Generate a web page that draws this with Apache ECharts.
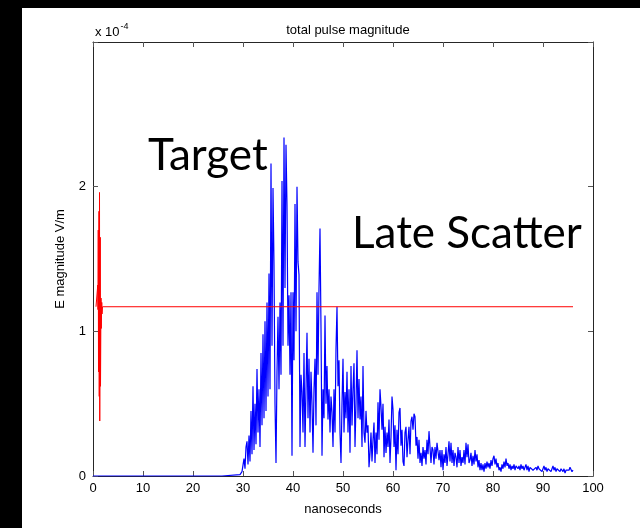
<!DOCTYPE html>
<html>
<head>
<meta charset="utf-8">
<script src="https://cdn.jsdelivr.net/npm/echarts@6/dist/echarts.min.js"></script>
<style>
  html, body { margin: 0; padding: 0; background: #fff; }
  #chart { width: 640px; height: 528px; }
</style>
</head>
<body>
<div id="chart"></div>
<script>
// values in units of 1e-4 V/m, time in nanoseconds
const leadTimes = [0, 25.8, 26.0, 29.4];
const leadValues = [0, 0, 0.01, 0.01];

// blue pulse, sampled every 0.2 ns from 29.6 ns
const pulseStart = 29.6;
const pulseStep = 0.2;
const pulseValues = [
    0.01, 0.03, 0.02, 0.12, 0.05, 0.20, 0.24, 0.08, 0.28, 0.10,
    0.45, 0.15, 0.62, 0.18, 0.50, 0.22, 0.74, 0.30, 0.60, 0.20,
    0.85, 0.35, 0.98, 0.40, 1.07, 0.45, 1.20, 0.55, 1.40, 0.60,
    2.16, 0.90, 1.99, 1.46, 0.50, 0.09, 0.72, 1.10, 0.60, 1.20,
    0.70, 2.04, 0.90, 2.34, 1.30, 2.29, 1.87, 0.90, 1.25, 0.70,
    1.27, 0.14, 1.27, 0.80, 1.88, 1.00, 2.00, 1.48, 1.39, 0.20,
    0.70, 0.58, 0.30, 0.85, 0.20, 0.60, 0.99, 0.40, 0.81, 0.30,
    0.72, 0.50, 0.16, 0.60, 0.81, 0.35, 1.27, 0.70, 1.30, 1.71,
    1.02, 0.14, 0.60, 0.40, 1.11, 0.50, 0.76, 0.39, 0.60, 0.30,
    0.55, 0.44, 0.20, 0.60, 0.30, 0.88, 1.17, 0.62, 0.80, 0.30,
    0.09, 0.50, 0.81, 0.30, 0.58, 0.40, 0.72, 0.30, 0.60, 0.16,
    0.76, 0.35, 0.60, 0.78, 0.20, 0.50, 0.87, 0.40, 0.67, 0.39,
    0.55, 0.20, 0.76, 0.30, 0.23, 0.45, 0.30, 0.35, 0.06, 0.16,
    0.30, 0.10, 0.25, 0.37, 0.09, 0.30, 0.15, 0.51, 0.25, 0.60,
    0.48, 0.32, 0.50, 0.13, 0.34, 0.16, 0.30, 0.20, 0.39, 0.09,
    0.27, 0.55, 0.46, 0.20, 0.35, 0.04, 0.32, 0.15, 0.44, 0.47,
    0.21, 0.32, 0.10, 0.07, 0.30, 0.34, 0.13, 0.25, 0.34, 0.15,
    0.38, 0.41, 0.32, 0.43, 0.41, 0.21, 0.27, 0.12, 0.25, 0.09,
    0.16, 0.07, 0.20, 0.12, 0.18, 0.08, 0.25, 0.15, 0.31, 0.30,
    0.09, 0.20, 0.18, 0.08, 0.20, 0.12, 0.23, 0.24, 0.11, 0.18,
    0.06, 0.18, 0.04, 0.15, 0.09, 0.20, 0.07, 0.15, 0.24, 0.10,
    0.23, 0.09, 0.18, 0.07, 0.16, 0.13, 0.06, 0.20, 0.09, 0.18,
    0.07, 0.13, 0.09, 0.18, 0.08, 0.23, 0.13, 0.22, 0.09, 0.11,
    0.16, 0.07, 0.14, 0.08, 0.18, 0.10, 0.15, 0.06, 0.11, 0.04,
    0.09, 0.04, 0.08, 0.03, 0.09, 0.05, 0.10, 0.06, 0.09, 0.05,
    0.11, 0.07, 0.12, 0.14, 0.08, 0.12, 0.06, 0.09, 0.04, 0.06,
    0.03, 0.08, 0.05, 0.10, 0.06, 0.12, 0.07, 0.09, 0.05, 0.08,
    0.04, 0.07, 0.05, 0.08, 0.04, 0.07, 0.08, 0.05, 0.07, 0.04,
    0.08, 0.05, 0.07, 0.04, 0.06, 0.08, 0.04, 0.07, 0.03, 0.06,
    0.05, 0.07, 0.04, 0.05, 0.03, 0.06, 0.04, 0.07, 0.05, 0.04,
    0.06, 0.03, 0.05, 0.07, 0.04, 0.06, 0.03, 0.05, 0.04, 0.06,
    0.03, 0.05, 0.07, 0.04, 0.06, 0.03, 0.05, 0.04, 0.06, 0.03,
    0.05, 0.04, 0.03, 0.05, 0.02, 0.04, 0.03, 0.05, 0.04, 0.06,
    0.07, 0.03, 0.04
];

// red reference trace
const refTimes = [0.6, 0.9, 0.95, 1.0, 1.05, 1.1, 1.2, 1.25, 1.3, 1.35, 1.45, 1.5, 1.6, 1.65, 1.75, 1.8, 1.9, 96];
const refValues = [1.17, 1.17, 1.32, 1.15, 1.70, 0.72, 1.83, 0.55, 1.96, 0.38, 1.65, 0.62, 1.23, 1.02, 1.20, 1.12, 1.17, 1.17];

const xTicks = [0, 10, 20, 30, 40, 50, 60, 70, 80, 90, 100];
const yTicks = [0, 1, 2];

const pulseData = leadTimes.map((t, i) => [t, leadValues[i]]);
pulseValues.forEach((v, i) => {
    pulseData.push([+(pulseStart + i * pulseStep).toFixed(2), v]);
});
const refData = refTimes.map((t, i) => [t, refValues[i]]);

const chart = echarts.init(document.getElementById('chart'));
const font = 'Liberation Sans';
const axisCommon = {
    axisLine: { show: true, onZero: false, lineStyle: { color: '#262626', width: 1 } },
    axisTick: { show: true, inside: true, length: 5, lineStyle: { color: '#555' } },
    splitLine: { show: false }
};

chart.setOption({
    backgroundColor: '#fff',
    animation: false,
    grid: { left: 93, right: 47, top: 42, bottom: 52 },
    graphic: [
        { type: 'rect', shape: { x: 0, y: 0, width: 22, height: 528 }, style: { fill: '#000' } },
        { type: 'rect', shape: { x: 0, y: 0, width: 640, height: 8 }, style: { fill: '#000' } },
        {
            type: 'text', left: 95, top: 22,
            style: {
                text: '{b|x 10}{s|-4}',
                rich: {
                    b: { fontFamily: font, fontSize: 13, fill: '#000', verticalAlign: 'bottom' },
                    s: { fontFamily: font, fontSize: 9, fill: '#000', verticalAlign: 'top', padding: [0, 0, 8, 1] }
                }
            }
        },
        { type: 'text', left: 148, top: 134, style: { text: 'Target', fontFamily: 'Lato', fontSize: 44, fill: '#000' } },
        { type: 'text', left: 352, top: 212, style: { text: 'Late Scatter', fontFamily: 'Lato', fontSize: 44, fill: '#000' } }
    ],
    title: {
        text: 'total pulse magnitude',
        left: 343, top: 19,
        textAlign: 'center',
        textStyle: { fontFamily: font, fontSize: 13, fontWeight: 'normal', color: '#000' }
    },
    xAxis: [
        Object.assign({
            type: 'value', min: 0, max: 100, interval: 10,
            name: 'nanoseconds', nameLocation: 'middle', nameGap: 27,
            nameTextStyle: { fontFamily: font, fontSize: 13, color: '#000' },
            axisLabel: {
                fontFamily: font, fontSize: 13, color: '#000', margin: 6,
                formatter: v => xTicks.includes(v) ? String(v) : ''
            }
        }, axisCommon),
        Object.assign({
            type: 'value', min: 0, max: 100, interval: 10, position: 'top',
            axisLabel: { show: false }
        }, axisCommon)
    ],
    yAxis: [
        Object.assign({
            type: 'value', min: 0, max: 3, interval: 1,
            name: 'E magnitude V/m', nameLocation: 'middle', nameGap: 26,
            nameTextStyle: { fontFamily: font, fontSize: 13, color: '#000' },
            axisLabel: {
                fontFamily: font, fontSize: 13, color: '#000', margin: 7,
                formatter: v => yTicks.includes(v) ? String(v) : ''
            }
        }, axisCommon),
        Object.assign({
            type: 'value', min: 0, max: 3, interval: 1, position: 'right',
            axisLabel: { show: false }
        }, axisCommon)
    ],
    series: [
        {
            type: 'line', data: pulseData, showSymbol: false,
            lineStyle: { color: '#0000ff', width: 1.2 }, z: 2
        },
        {
            type: 'line', data: refData, showSymbol: false,
            lineStyle: { color: '#ff0000', width: 1 }, z: 3
        }
    ]
});
</script>
</body>
</html>
